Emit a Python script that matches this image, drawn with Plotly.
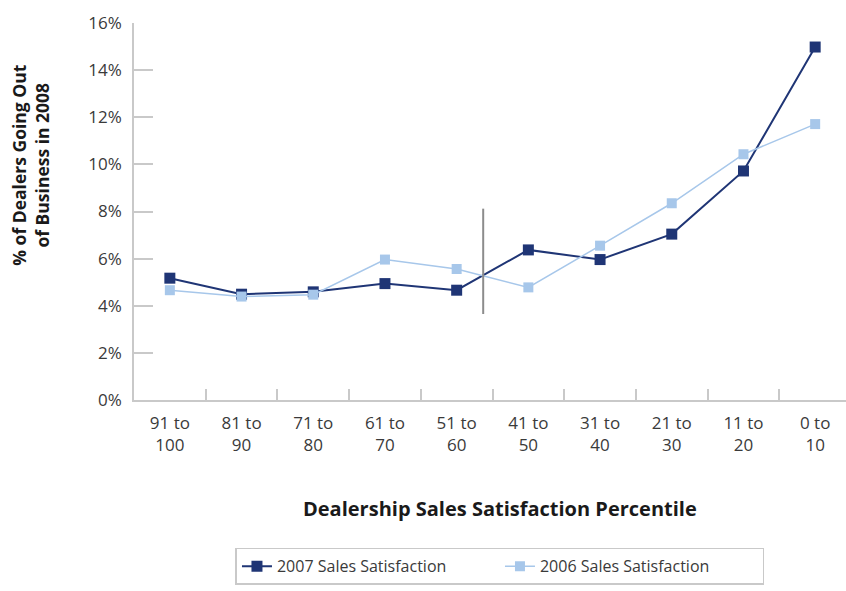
import plotly.graph_objects as go

# Sales-satisfaction percentile bands (highest satisfaction on the left)
categories = ["91 to<br>100", "81 to<br>90", "71 to<br>80", "61 to<br>70", "51 to<br>60",
              "41 to<br>50", "31 to<br>40", "21 to<br>30", "11 to<br>20", "0 to<br>10"]

# Share of dealers going out of business in 2008 (%)
sales_2007 = [5.17, 4.49, 4.59, 4.94, 4.66, 6.37, 5.96, 7.04, 9.72, 14.98]
sales_2006 = [4.66, 4.39, 4.47, 5.96, 5.56, 4.78, 6.55, 8.35, 10.43, 11.71]

y_ticks = [0, 2, 4, 6, 8, 10, 12, 14, 16]
y_tick_labels = ["0%", "2%", "4%", "6%", "8%", "10%", "12%", "14%", "16%"]

# Divider drawn where the two series cross
divider_x = 4.37
divider_y = (3.65, 8.12)

DARK = "#1f3575"
LIGHT = "#a7c7ea"
AXIS = "#c9c9c9"
TEXT = "#3a3a3a"
FONT = "Open Sans"

fig = go.Figure()
fig.add_trace(go.Scatter(
    x=categories, y=sales_2007, name="2007 Sales Satisfaction",
    mode="lines+markers",
    line=dict(color=DARK, width=2),
    marker=dict(symbol="square", size=11, color=DARK),
))
fig.add_trace(go.Scatter(
    x=categories, y=sales_2006, name="2006 Sales Satisfaction",
    mode="lines+markers",
    line=dict(color=LIGHT, width=1.5),
    marker=dict(symbol="square", size=10, color=LIGHT),
))

fig.add_shape(type="line", xref="x", yref="y",
              x0=divider_x, x1=divider_x, y0=divider_y[0], y1=divider_y[1],
              line=dict(color="#8c8c8c", width=2))

fig.update_xaxes(
    type="category", range=[-0.5, 9.43],
    showline=True, linecolor=AXIS, linewidth=1.5,
    ticks="inside", tickson="boundaries", ticklen=11, tickcolor=AXIS, tickwidth=1.5,
    showgrid=False, zeroline=False,
    tickfont=dict(family=FONT, size=17, color=TEXT),
    ticklabelstandoff=7,
)
fig.update_yaxes(
    range=[0, 16], tickmode="array", tickvals=y_ticks, ticktext=y_tick_labels,
    showline=True, linecolor=AXIS, linewidth=1.5,
    ticks="inside", ticklen=19, tickcolor=AXIS, tickwidth=1.5,
    showgrid=False, zeroline=False,
    tickfont=dict(family=FONT, size=17, color=TEXT),
    ticklabelstandoff=7,
)

fig.add_annotation(
    text="% of Dealers Going Out<br>of Business in 2008",
    xref="paper", yref="paper", x=-0.1447, y=0.624,
    xanchor="center", yanchor="middle",
    textangle=-90, showarrow=False, align="center",
    font=dict(family=FONT, size=17.5, color="#1a1a1a", weight="bold"),
)
fig.add_annotation(
    text="Dealership Sales Satisfaction Percentile",
    xref="paper", yref="paper", x=0.514, y=-0.287,
    xanchor="center", yanchor="middle",
    showarrow=False,
    font=dict(family=FONT, size=20, color="#1a1a1a", weight="bold"),
)

fig.update_layout(
    width=846, height=591,
    margin=dict(l=134, r=0, t=23, b=191),
    paper_bgcolor="white", plot_bgcolor="white",
    showlegend=True,
    legend=dict(
        orientation="h", x=0.514, xanchor="center", y=-0.441, yanchor="middle",
        bordercolor=AXIS, borderwidth=1.5,
        font=dict(family=FONT, size=16, color=TEXT),
        entrywidth=218, entrywidthmode="pixels",
    ),
)

fig.write_html("out.html")
